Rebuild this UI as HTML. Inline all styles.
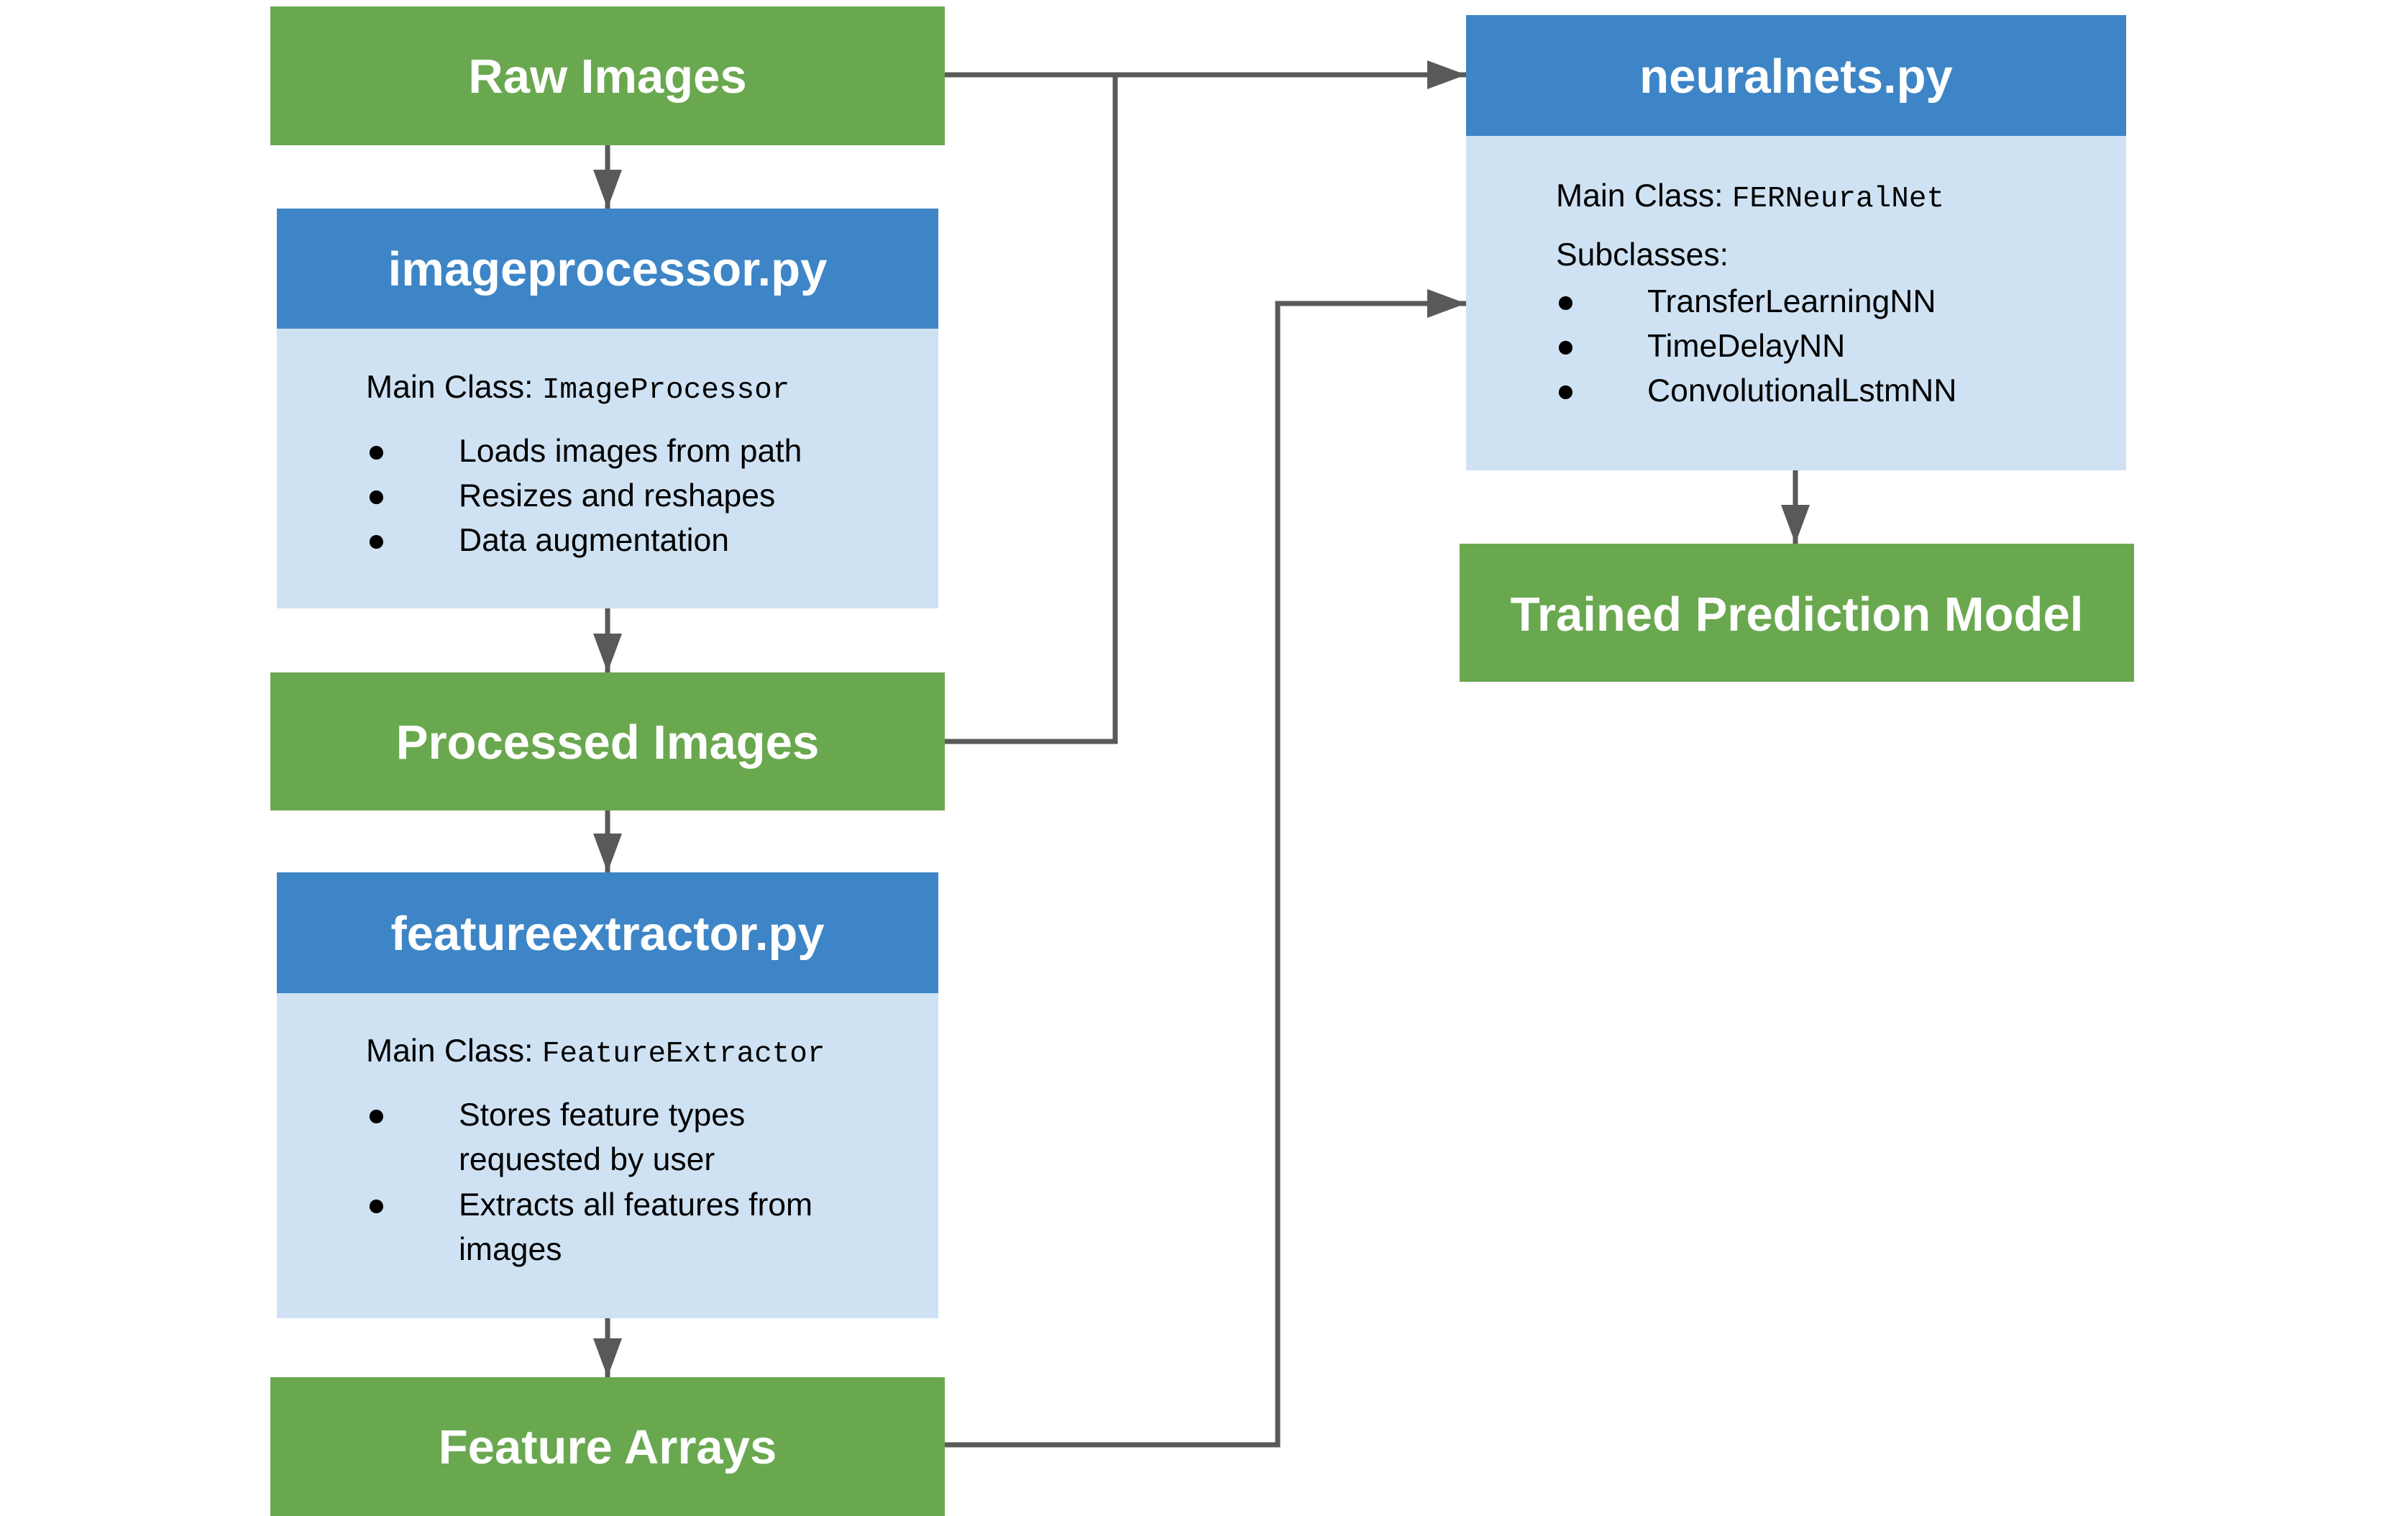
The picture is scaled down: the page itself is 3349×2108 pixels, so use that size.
<!DOCTYPE html>
<html><head><meta charset="utf-8"><style>
html,body{margin:0;padding:0;background:#fff;}
svg{display:block;}
.t{font-family:"Liberation Sans",Arial,sans-serif;font-weight:bold;fill:#fff;font-size:67px;}
.b{font-family:"Liberation Sans",Arial,sans-serif;fill:#000;font-size:44.5px;}
.m{font-family:"Liberation Mono",monospace;font-size:41px;}
</style></head><body>
<svg width="3349" height="2108" viewBox="0 0 3349 2108" xmlns="http://www.w3.org/2000/svg">
<defs>
<marker id="ah" markerWidth="54" markerHeight="40" refX="54" refY="20" orient="auto" markerUnits="userSpaceOnUse">
<path d="M0,0 L54,20 L0,40 Z" fill="#595959"/>
</marker>
</defs>
<rect x="376" y="9" width="938" height="193" fill="#6aa84f"/>
<text class="t" x="845" y="129" text-anchor="middle">Raw Images</text>

<rect x="385" y="290" width="920" height="167" fill="#3d85c6"/>
<text class="t" x="845" y="397" text-anchor="middle">imageprocessor.py</text>
<rect x="385" y="457" width="920" height="389" fill="#cfe2f3"/>
<text class="b" x="509" y="553">Main Class: <tspan class="m">ImageProcessor</tspan></text>
<text class="b" x="510" y="642">●</text><text class="b" x="638" y="642">Loads images from path</text>
<text class="b" x="510" y="704">●</text><text class="b" x="638" y="704">Resizes and reshapes</text>
<text class="b" x="510" y="766">●</text><text class="b" x="638" y="766">Data augmentation</text>

<rect x="376" y="935" width="938" height="192" fill="#6aa84f"/>
<text class="t" x="845" y="1055" text-anchor="middle">Processed Images</text>

<rect x="385" y="1213" width="920" height="168" fill="#3d85c6"/>
<text class="t" x="845" y="1321" text-anchor="middle">featureextractor.py</text>
<rect x="385" y="1381" width="920" height="452" fill="#cfe2f3"/>
<text class="b" x="509" y="1476">Main Class: <tspan class="m">FeatureExtractor</tspan></text>
<text class="b" x="510" y="1565">●</text><text class="b" x="638" y="1565">Stores feature types</text>
<text class="b" x="638" y="1627">requested by user</text>
<text class="b" x="510" y="1690">●</text><text class="b" x="638" y="1690">Extracts all features from</text>
<text class="b" x="638" y="1752">images</text>

<rect x="376" y="1915" width="938" height="193" fill="#6aa84f"/>
<text class="t" x="845" y="2035" text-anchor="middle">Feature Arrays</text>

<rect x="2039" y="21" width="918" height="168" fill="#3d85c6"/>
<text class="t" x="2498" y="129" text-anchor="middle">neuralnets.py</text>
<rect x="2039" y="189" width="918" height="465" fill="#cfe2f3"/>
<text class="b" x="2164" y="287">Main Class: <tspan class="m">FERNeuralNet</tspan></text>
<text class="b" x="2164" y="369">Subclasses:</text>
<text class="b" x="2164" y="434">●</text><text class="b" x="2291" y="434">TransferLearningNN</text>
<text class="b" x="2164" y="496">●</text><text class="b" x="2291" y="496">TimeDelayNN</text>
<text class="b" x="2164" y="558">●</text><text class="b" x="2291" y="558">ConvolutionalLstmNN</text>

<rect x="2030" y="756" width="938" height="192" fill="#6aa84f"/>
<text class="t" x="2499" y="877" text-anchor="middle">Trained Prediction Model</text>

<g stroke="#595959" stroke-width="7" fill="none">
<line x1="845" y1="202" x2="845" y2="290" marker-end="url(#ah)"/>
<line x1="845" y1="846" x2="845" y2="935" marker-end="url(#ah)"/>
<line x1="845" y1="1127" x2="845" y2="1213" marker-end="url(#ah)"/>
<line x1="845" y1="1833" x2="845" y2="1915" marker-end="url(#ah)"/>
<line x1="2497" y1="654" x2="2497" y2="756" marker-end="url(#ah)"/>
<line x1="1314" y1="104" x2="2039" y2="104" marker-end="url(#ah)"/>
<polyline points="1314,1031 1551,1031 1551,104"/>
<polyline points="1314,2009 1777,2009 1777,422 2039,422" marker-end="url(#ah)"/>
</g>
</svg>
</body></html>
